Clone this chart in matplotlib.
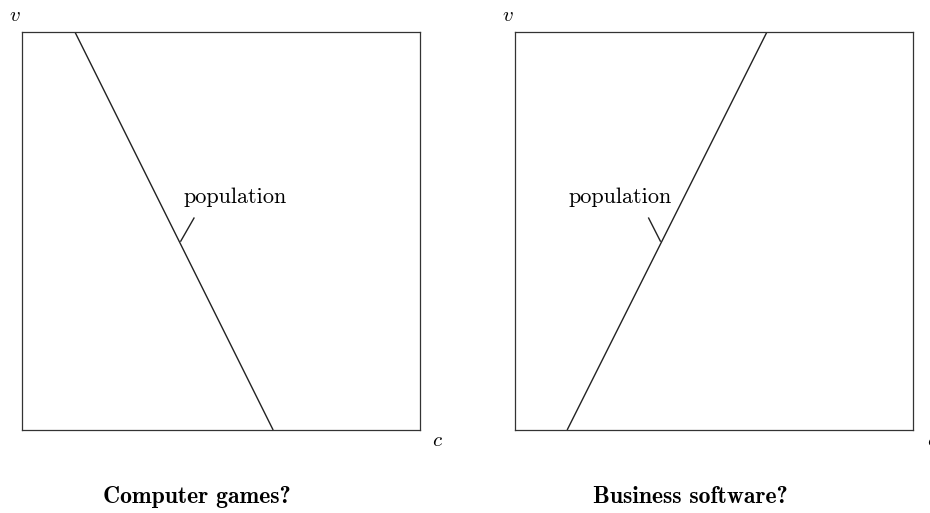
import os
import matplotlib
matplotlib.use("Agg")
import matplotlib.pyplot as plt
from matplotlib.font_manager import FontProperties

plt.rcParams['mathtext.fontset'] = 'cm'
ttf = os.path.join(matplotlib.get_data_path(), 'fonts', 'ttf')
roman = FontProperties(fname=os.path.join(ttf, 'cmr10.ttf'))
bold = FontProperties(fname=os.path.join(ttf, 'cmb10.ttf'))

# population lines, (c, v) endpoints in unit box
games_c = [0.133, 0.631]
games_v = [1.0, 0.0]
business_c = [0.131, 0.633]
business_v = [0.0, 1.0]

# label leader ticks: foot on line -> end near text
games_tick_c = [0.398, 0.433]
games_tick_v = [0.473, 0.534]
business_tick_c = [0.366, 0.335]
business_tick_v = [0.473, 0.534]

games_label_pos = (0.535, 0.585)
business_label_pos = (0.264, 0.585)

titles = ["Computer games?", "Business software?"]

fig = plt.figure(figsize=(9.3, 5.13), dpi=100)
ax1 = fig.add_axes([22 / 930, 83 / 513, 398 / 930, 398 / 513])
ax2 = fig.add_axes([515 / 930, 83 / 513, 398 / 930, 398 / 513])

panels = [
    (ax1, games_c, games_v, games_tick_c, games_tick_v, games_label_pos),
    (ax2, business_c, business_v, business_tick_c, business_tick_v, business_label_pos),
]
for ax, cs, vs, tc, tv, lp in panels:
    ax.plot(cs, vs, color='#222222', lw=1.0, solid_capstyle='butt')
    ax.plot(tc, tv, color='#222222', lw=1.0, solid_capstyle='butt')
    ax.text(lp[0], lp[1], 'population', ha='center', va='center',
            fontproperties=roman, fontsize=16)
    ax.set_xlim(0, 1)
    ax.set_ylim(0, 1)
    ax.set_xticks([])
    ax.set_yticks([])
    for s in ax.spines.values():
        s.set_linewidth(0.9)
        s.set_color('#333333')

# axis letters
fig.text(15 / 930, 1 - 15 / 513, r'$v$', ha='center', va='center', fontsize=15)
fig.text(508 / 930, 1 - 15 / 513, r'$v$', ha='center', va='center', fontsize=15)
fig.text(437 / 930, 1 - 440 / 513, r'$c$', ha='center', va='center', fontsize=15)
fig.text(932 / 930, 1 - 440 / 513, r'$c$', ha='center', va='center', fontsize=15)

# titles
for x, t in zip([197 / 930, 690 / 930], titles):
    fig.text(x, 1 - 497 / 513, t, ha='center', va='center',
             fontproperties=bold, fontsize=17)

fig.savefig("out.png", dpi=100)
